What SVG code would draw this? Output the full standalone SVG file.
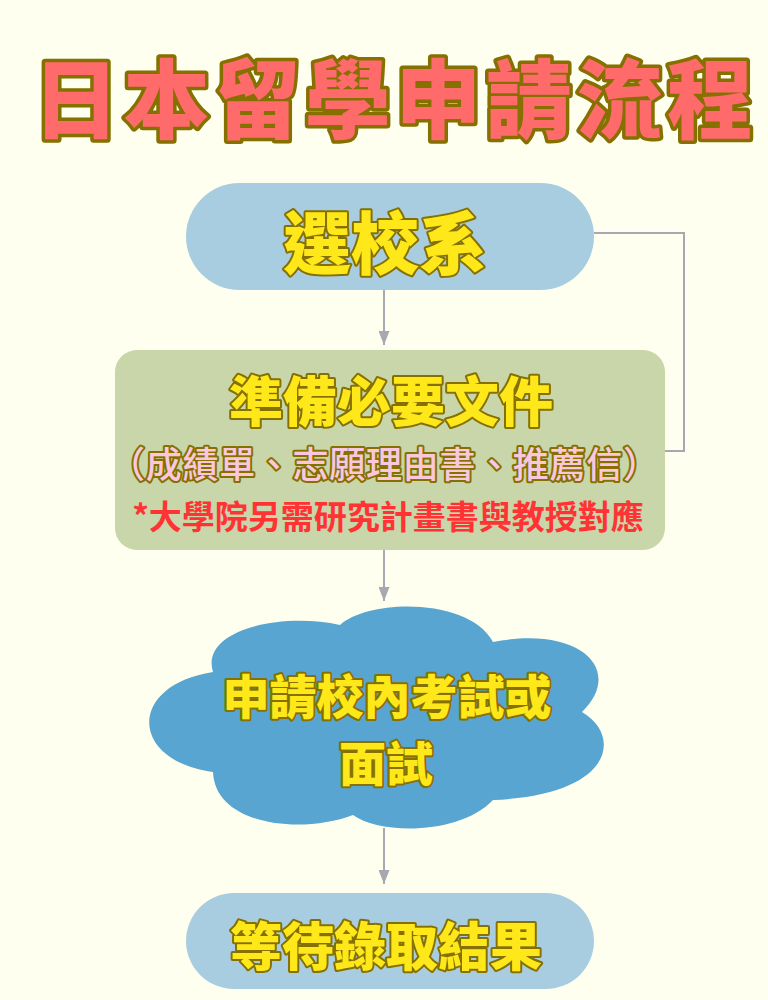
<svg xmlns="http://www.w3.org/2000/svg" width="768" height="1000" viewBox="0 0 768 1000">
<defs>
<style>
.t{font-family:"Noto Sans CJK TC","Noto Sans CJK SC",sans-serif;font-weight:900;text-anchor:middle;dominant-baseline:central;paint-order:stroke fill;stroke-linejoin:round}
.y{fill:#FFE81A;stroke:#857000;stroke-width:4}
.conn{fill:none;stroke:#A8A8B0;stroke-width:2}
</style>
<marker id="ah" viewBox="0 0 14 11" refX="14" refY="5.5" markerWidth="14" markerHeight="11" markerUnits="userSpaceOnUse" orient="auto">
<path d="M0,0 L14,5.5 L0,11 Z" fill="#A8A8B0"/>
</marker>
</defs>
<rect width="768" height="1000" fill="#FEFFEE"/>
<g id="title">
<text class="t" x="393" y="94" font-size="86" textLength="720" lengthAdjust="spacing" fill="#FF6B6B" stroke="#857000" stroke-width="7">日本留學申請流程</text>
</g>
<g id="connectors">
<line class="conn" x1="384" y1="290" x2="384" y2="345" marker-end="url(#ah)"/>
<line class="conn" x1="384" y1="550" x2="384" y2="601" marker-end="url(#ah)"/>
<line class="conn" x1="384" y1="828" x2="384" y2="884" marker-end="url(#ah)"/>
<polyline class="conn" points="594,233 684,233 684,451 665,451"/>
</g>
<g id="node1">
<rect x="186" y="183" width="408" height="107" rx="53.5" fill="#A9CDE0"/>
<text class="t y" x="385" y="239" font-size="68">選校系</text>
</g>
<g id="node2">
<rect x="115" y="350" width="550" height="200" rx="22" fill="#C8D6A9"/>
<text class="t y" x="391" y="398" font-size="54">準備必要文件</text>
<text class="t" x="384" y="462" font-size="36" textLength="550" lengthAdjust="spacing" fill="#F9C8DF" stroke="#857000" stroke-width="4" style="font-weight:500">（成績單、志願理由書、推薦信）</text>
<text class="t" x="388" y="515" font-size="33" fill="#FF3333" style="font-weight:700;paint-order:normal">*大學院另需研究計畫書與教授對應</text>
</g>
<g id="node3">
<path d="M213,672 C200,630 280,612 340,625 C370,598 470,598 493,642 C580,625 625,670 582,712 C622,735 615,795 493,800 C460,835 380,835 353,815 C300,835 215,825 213,772 C128,760 128,685 213,672 Z" fill="#57A5D0"/>
<text class="t y" x="387" y="693" font-size="47">申請校內考試或</text>
<text class="t y" x="386" y="760" font-size="47">面試</text>
</g>
<g id="node4">
<rect x="186" y="893" width="408" height="96" rx="48" fill="#A9CDE0"/>
<text class="t y" x="386" y="943" font-size="52">等待錄取結果</text>
</g>
</svg>
